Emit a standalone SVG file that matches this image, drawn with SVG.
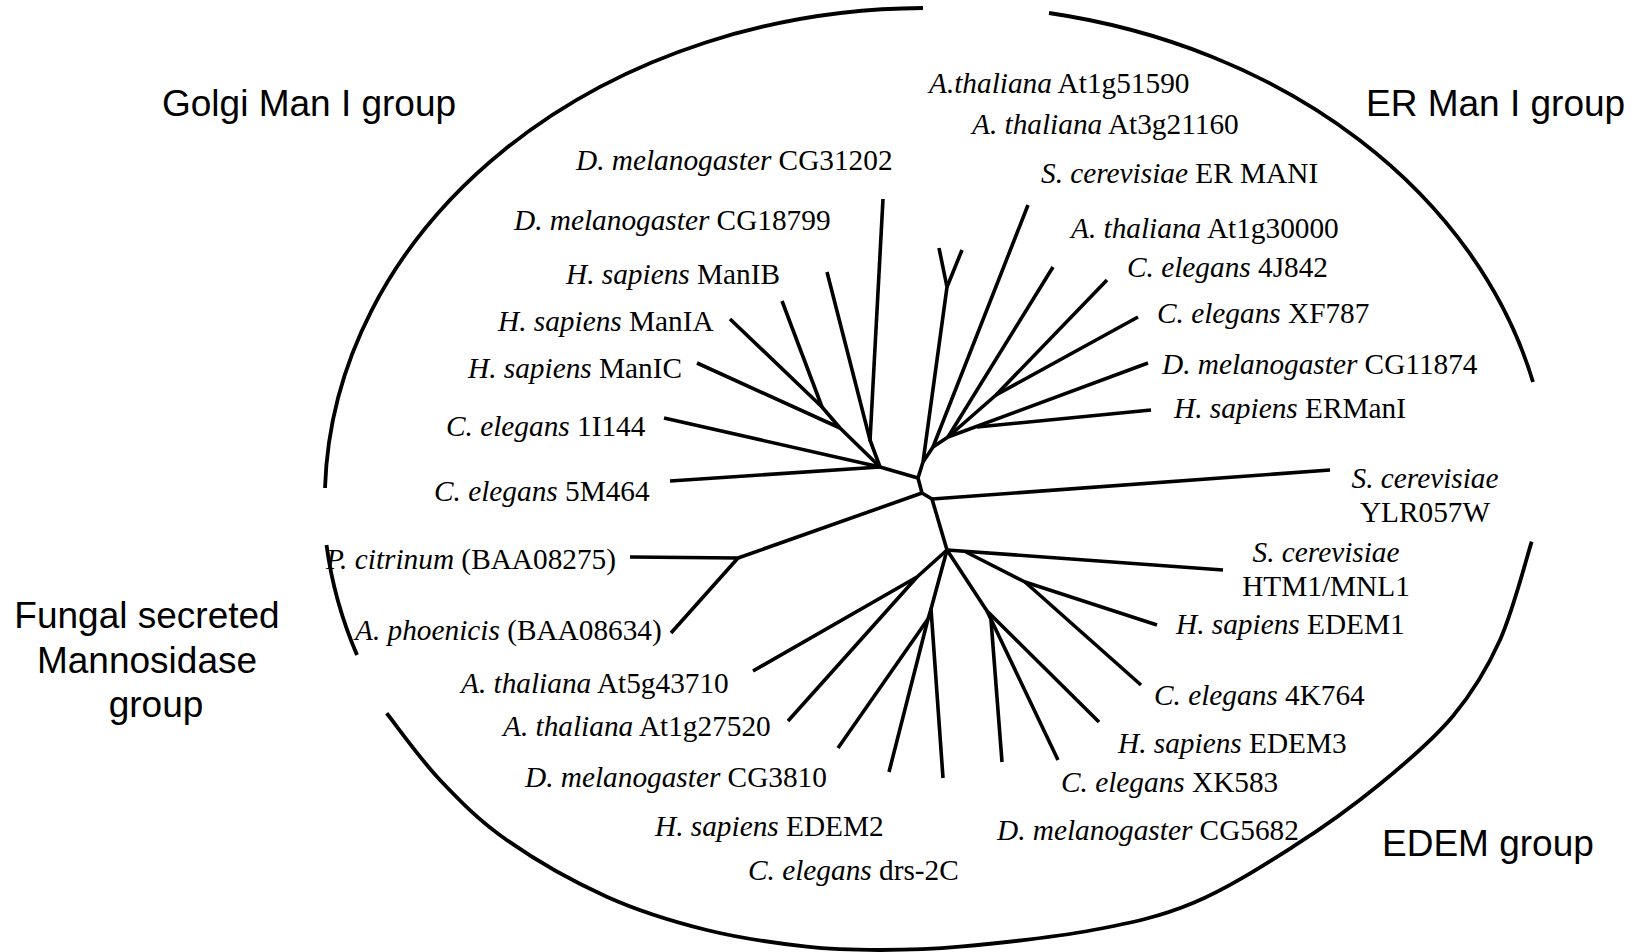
<svg xmlns="http://www.w3.org/2000/svg" width="1639" height="952" viewBox="0 0 1639 952">
<style>
.t{font-family:"Liberation Serif","Times New Roman",serif;font-size:29.3px;fill:#000}
.i{font-style:italic}
.g{font-family:"Liberation Sans",Arial,sans-serif;font-size:37px;fill:#000}
.e{fill:none;stroke:#000;stroke-width:3.6;stroke-linecap:butt;stroke-linejoin:round}
.arc{fill:none;stroke:#000;stroke-width:3.8}
</style>
<rect width="1639" height="952" fill="#fff"/>
<g id="group-boundaries">
<path class="arc" d="M923 8 A602 493 0 0 0 325 488"/>
<path class="arc" d="M1049 13 A610 493 0 0 1 1533 382"/>
<path class="arc" d="M326.5 545 A602 493 0 0 0 357 655"/>
<path class="arc" d="M386.7 713.3 C395.6 724.4 420 758.9 440 780 C460 801.1 478.9 820.6 506.7 840 C534.5 859.5 573.4 881.7 606.7 896.7 C640 911.7 673.4 921.7 706.7 930 C740 938.3 777.8 943.4 806.7 946.7 C835.6 950 854.4 950 880 950 C905.6 950 924.5 950 960 946.7 C995.5 943.4 1054.2 937.3 1093 930 C1131.8 922.7 1159.7 916.9 1193 903 C1226.3 889.1 1261.8 866.5 1293 846.7 C1324.2 826.9 1353.3 805.8 1380 784 C1406.7 762.2 1433 740 1453 716 C1473 692 1486.9 669.1 1500 640 C1513.1 610.9 1526.4 558.1 1531.7 541.7"/>
</g>
<g id="connectors">
<!-- Golgi -->
<polyline class="e" points="670,481 880,467"/>
<polyline class="e" points="664,418 880,467"/>
<polyline class="e" points="697,363 840,428"/>
<polyline class="e" points="730,319 822,407 840,428 880,467"/>
<polyline class="e" points="782,301 822,407"/>
<polyline class="e" points="827,272 870,440 880,467"/>
<polyline class="e" points="883,199 870,441"/>
<!-- center -->
<polyline class="e" points="880,467 918,478 923,462"/>
<polyline class="e" points="918,478 922,493 932,499"/>
<polyline class="e" points="932,499 1330,470"/>
<polyline class="e" points="932,499 947,550"/>
<!-- Fungal -->
<polyline class="e" points="922,493 738,558 630,557"/>
<polyline class="e" points="738,558 671,633"/>
<!-- ER -->
<polyline class="e" points="923,462 947,287 939,248"/>
<polyline class="e" points="947,287 962,250"/>
<polyline class="e" points="923,462 933,447 948,437"/>
<polyline class="e" points="933,447 1028,205"/>
<polyline class="e" points="948,437 1053,267"/>
<polyline class="e" points="948,437 996,395 1107,280"/>
<polyline class="e" points="996,395 1138,317"/>
<polyline class="e" points="948,437 1148,363"/>
<polyline class="e" points="977,427 1151,410"/>
<!-- EDEM -->
<polyline class="e" points="947,550 1223,570"/>
<polyline class="e" points="966,552 1025,582 1157,625"/>
<polyline class="e" points="1025,582 1141,685"/>
<polyline class="e" points="947,550 987,611 1099,722"/>
<polyline class="e" points="987,611 1058,760"/>
<polyline class="e" points="991,620 1002,762"/>
<polyline class="e" points="947,550 931,609 943,778"/>
<polyline class="e" points="931,609 928,619 889,772"/>
<polyline class="e" points="928,619 838,748"/>
<polyline class="e" points="947,550 917,577 753,671"/>
<polyline class="e" points="917,577 788,721"/>
</g>
<g id="group-labels">
<text id="golgi-group" class="g" x="162" y="116">Golgi Man I group</text>
<text id="er-group" class="g" x="1366" y="116">ER Man I group</text>
<text id="fungal-group" class="g" text-anchor="middle"><tspan x="147" y="628">Fungal secreted</tspan><tspan x="147" y="673">Mannosidase</tspan><tspan x="156" y="717">group</tspan></text>
<text id="edem-group" class="g" x="1382" y="856">EDEM group</text>
</g>
<g id="n-at1g51590"><text class="t" x="929" y="93"><tspan class="i">A.thaliana</tspan> At1g51590</text></g>
<g id="n-at3g21160"><text class="t" x="972" y="134"><tspan class="i">A. thaliana</tspan> At3g21160</text></g>
<g id="n-cg31202"><text class="t" x="576" y="170"><tspan class="i">D. melanogaster</tspan> CG31202</text></g>
<g id="n-ermani"><text class="t" x="1041" y="183"><tspan class="i">S. cerevisiae</tspan> ER MANI</text></g>
<g id="n-cg18799"><text class="t" x="514" y="230"><tspan class="i">D. melanogaster</tspan> CG18799</text></g>
<g id="n-at1g30000"><text class="t" x="1071" y="238"><tspan class="i">A. thaliana</tspan> At1g30000</text></g>
<g id="n-manib"><text class="t" x="566" y="284"><tspan class="i">H. sapiens</tspan> ManIB</text></g>
<g id="n-4j842"><text class="t" x="1127" y="277"><tspan class="i">C. elegans</tspan> 4J842</text></g>
<g id="n-mania"><text class="t" x="498" y="331"><tspan class="i">H. sapiens</tspan> ManIA</text></g>
<g id="n-xf787"><text class="t" x="1157" y="323"><tspan class="i">C. elegans</tspan> XF787</text></g>
<g id="n-manic"><text class="t" x="468" y="378"><tspan class="i">H. sapiens</tspan> ManIC</text></g>
<g id="n-cg11874"><text class="t" x="1162" y="374"><tspan class="i">D. melanogaster</tspan> CG11874</text></g>
<g id="n-1i144"><text class="t" x="446" y="436"><tspan class="i">C. elegans</tspan> 1I144</text></g>
<g id="n-ermani-h"><text class="t" x="1174" y="418"><tspan class="i">H. sapiens</tspan> ERManI</text></g>
<g id="n-5m464"><text class="t" x="434" y="501"><tspan class="i">C. elegans</tspan> 5M464</text></g>
<g id="n-ylr057w"><text class="t" text-anchor="middle"><tspan class="i" x="1425" y="488">S. cerevisiae</tspan><tspan x="1425" y="522">YLR057W</tspan></text></g>
<g id="n-pcitrinum"><text class="t" x="326" y="569"><tspan class="i">P. citrinum</tspan> (BAA08275)</text></g>
<g id="n-htm1"><text class="t" text-anchor="middle"><tspan class="i" x="1326" y="562">S. cerevisiae</tspan><tspan x="1326" y="596">HTM1/MNL1</tspan></text></g>
<g id="n-aphoenicis"><text class="t" x="355" y="640"><tspan class="i">A. phoenicis</tspan> (BAA08634)</text></g>
<g id="n-edem1"><text class="t" x="1176" y="634"><tspan class="i">H. sapiens</tspan> EDEM1</text></g>
<g id="n-at5g43710"><text class="t" x="461" y="693"><tspan class="i">A. thaliana</tspan> At5g43710</text></g>
<g id="n-4k764"><text class="t" x="1154" y="705"><tspan class="i">C. elegans</tspan> 4K764</text></g>
<g id="n-at1g27520"><text class="t" x="503" y="736"><tspan class="i">A. thaliana</tspan> At1g27520</text></g>
<g id="n-cg3810"><text class="t" x="525" y="787"><tspan class="i">D. melanogaster</tspan> CG3810</text></g>
<g id="n-edem3"><text class="t" x="1118" y="753"><tspan class="i">H. sapiens</tspan> EDEM3</text></g>
<g id="n-xk583"><text class="t" x="1061" y="792"><tspan class="i">C. elegans</tspan> XK583</text></g>
<g id="n-edem2"><text class="t" x="655" y="836"><tspan class="i">H. sapiens</tspan> EDEM2</text></g>
<g id="n-cg5682"><text class="t" x="997" y="840"><tspan class="i">D. melanogaster</tspan> CG5682</text></g>
<g id="n-drs2c"><text class="t" x="748" y="880"><tspan class="i">C. elegans</tspan> drs-2C</text></g>
</svg>
